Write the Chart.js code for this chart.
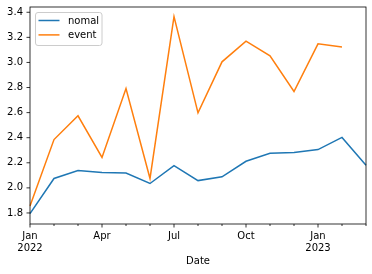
<!DOCTYPE html>
<html>
<head>
<meta charset="utf-8">
<script src="https://cdn.jsdelivr.net/npm/chart.js@4"></script>
<style>
html,body{margin:0;padding:0;background:#fff;}
#wrap{width:372px;height:274px;position:relative;}
</style>
</head>
<body>
<div id="wrap"><canvas id="c"></canvas></div>
<script>
const months = ['2022-01','2022-02','2022-03','2022-04','2022-05','2022-06','2022-07','2022-08','2022-09','2022-10','2022-11','2022-12','2023-01','2023-02','2023-03'];
const nomal = [1.795, 2.075, 2.138, 2.122, 2.118, 2.035, 2.178, 2.058, 2.088, 2.212, 2.276, 2.283, 2.305, 2.402, 2.18];
const eventVals = [1.855, 2.385, 2.575, 2.243, 2.792, 2.075, 3.365, 2.598, 3.005, 3.17, 3.053, 2.768, 3.148, 3.124];
const xTickLabels = {0:['Jan','2022'], 3:['Apr'], 6:['Jul'], 9:['Oct'], 12:['Jan','2023']};
const yTicks = [1.8, 2.0, 2.2, 2.4, 2.6, 2.8, 3.0, 3.2, 3.4];
const seriesNames = ['nomal', 'event'];
const colors = ['#1f77b4', '#ff7f0e'];
const FONT = 'DejaVu Sans';

const framePlugin = {
  id: 'frame',
  afterDraw(chart) {
    const ctx = chart.ctx;
    const a = chart.chartArea;
    const xs = chart.scales.x, ys = chart.scales.y;
    ctx.save();
    ctx.strokeStyle = '#000';
    ctx.lineWidth = 0.8;
    ctx.strokeRect(a.left, a.top, a.right - a.left, a.bottom - a.top);
    ctx.beginPath();
    for (let i = 0; i < months.length; i++) {
      const px = xs.getPixelForValue(i);
      const len = (i % 3 === 0) ? 3.5 : 2;
      ctx.moveTo(px, a.bottom);
      ctx.lineTo(px, a.bottom + len);
    }
    yTicks.forEach(v => {
      const py = ys.getPixelForValue(v);
      ctx.moveTo(a.left, py);
      ctx.lineTo(a.left - 3.5, py);
    });
    ctx.stroke();
    const lx = 35.5, ly = 12.5, lw = 66.5, lh = 33, r = 2.5;
    ctx.beginPath();
    ctx.moveTo(lx + r, ly);
    ctx.lineTo(lx + lw - r, ly);
    ctx.quadraticCurveTo(lx + lw, ly, lx + lw, ly + r);
    ctx.lineTo(lx + lw, ly + lh - r);
    ctx.quadraticCurveTo(lx + lw, ly + lh, lx + lw - r, ly + lh);
    ctx.lineTo(lx + r, ly + lh);
    ctx.quadraticCurveTo(lx, ly + lh, lx, ly + lh - r);
    ctx.lineTo(lx, ly + r);
    ctx.quadraticCurveTo(lx, ly, lx + r, ly);
    ctx.closePath();
    ctx.fillStyle = 'rgba(255,255,255,0.8)';
    ctx.fill();
    ctx.strokeStyle = '#cccccc';
    ctx.lineWidth = 1;
    ctx.stroke();
    chart.data.datasets.forEach((ds, i) => {
      const yy = 20.5 + i * 14.4;
      ctx.beginPath();
      ctx.strokeStyle = ds.borderColor;
      ctx.lineWidth = 1.5;
      ctx.moveTo(38.5, yy);
      ctx.lineTo(59.5, yy);
      ctx.stroke();
      ctx.fillStyle = '#000';
      ctx.font = '10px "' + FONT + '"';
      ctx.textBaseline = 'middle';
      ctx.textAlign = 'left';
      ctx.fillText(ds.label, 68, yy + 0.5);
    });
    ctx.restore();
  }
};

new Chart(document.getElementById('c'), {
  type: 'line',
  data: {
    labels: months,
    datasets: [
      {label: seriesNames[0], data: nomal, borderColor: colors[0], backgroundColor: colors[0], borderWidth: 1.5, pointRadius: 0, tension: 0, fill: false},
      {label: seriesNames[1], data: eventVals, borderColor: colors[1], backgroundColor: colors[1], borderWidth: 1.5, pointRadius: 0, tension: 0, fill: false}
    ]
  },
  options: {
    responsive: true,
    maintainAspectRatio: false,
    animation: false,
    events: [],
    layout: {padding: {top: 7, right: 6, left: 0, bottom: 0}},
    plugins: {legend: {display: false}, tooltip: {enabled: false}},
    scales: {
      x: {
        type: 'category',
        offset: false,
        grid: {display: false, drawTicks: false, tickLength: 0},
        border: {display: false},
        ticks: {
          autoSkip: false, maxRotation: 0, minRotation: 0, padding: 7,
          color: '#000', font: {family: FONT, size: 10, lineHeight: 1.15},
          callback: (v, i) => xTickLabels[i] || ''
        },
        title: {display: true, text: 'Date', color: '#000', font: {family: FONT, size: 10}, padding: {top: 0, bottom: 7}},
        afterFit: s => { s.height = 50; s.paddingLeft = 0; s.paddingRight = 0; }
      },
      y: {
        type: 'linear',
        min: 1.712, max: 3.442,
        grid: {display: false, drawTicks: false, tickLength: 0},
        border: {display: false},
        ticks: {padding: 7, color: '#000', font: {family: FONT, size: 10}, callback: v => Number(v).toFixed(1)},
        afterBuildTicks: s => { s.ticks = yTicks.map(v => ({value: v})); },
        afterFit: s => { s.width = 30; s.paddingTop = 0; s.paddingBottom = 0; }
      }
    }
  },
  plugins: [framePlugin]
});
</script>
</body>
</html>
